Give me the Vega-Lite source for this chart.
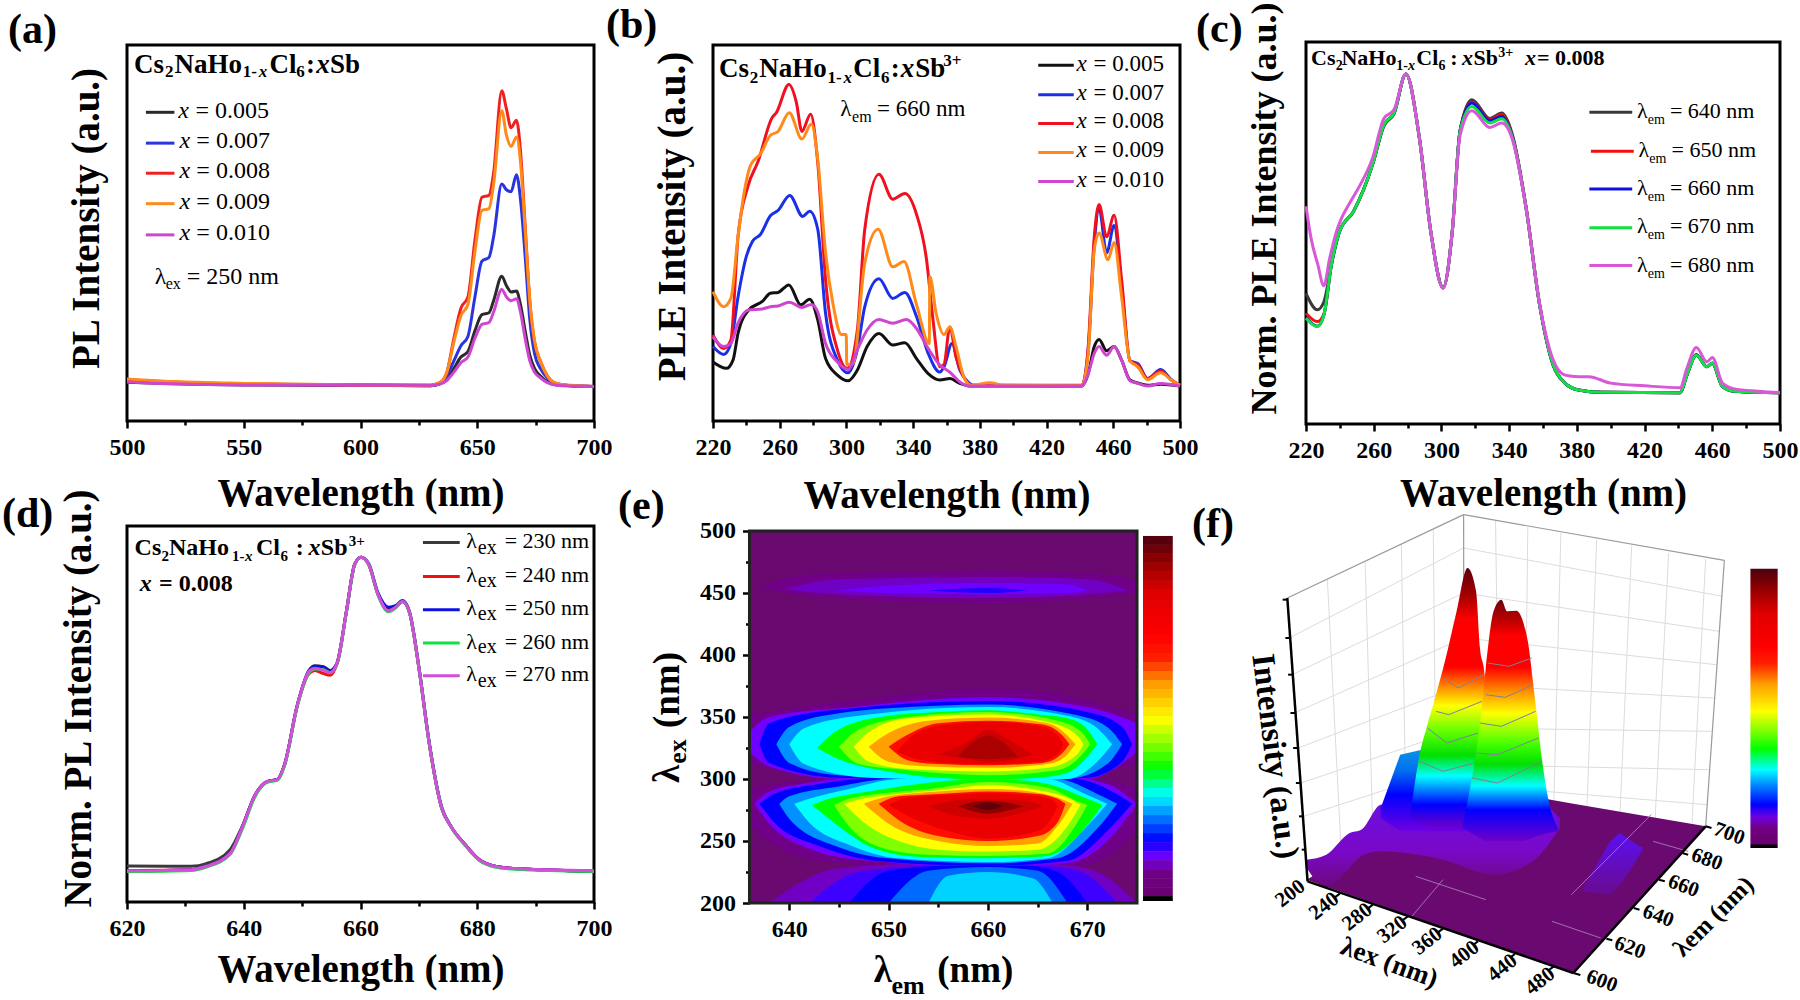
{"$schema":"https://vega.github.io/schema/vega-lite/v6.json","background":"white","padding":{"left":0,"top":0,"right":0,"bottom":0},"bounds":"flush","align":"each","center":{"row":true},"columns":3,"spacing":{"row":102,"column":119},"resolve":{"scale":{"color":"independent"}},"config":{"font":"Liberation Serif","view":{"stroke":"black","strokeWidth":3},"axis":{"labelFont":"Liberation Serif","titleFont":"Liberation Serif","labelFontSize":24,"labelFontWeight":"bold","labelColor":"black","titleFontSize":39,"titleFontWeight":"bold","titleColor":"black","domain":false,"tickColor":"black","tickWidth":2.5,"grid":false,"labelPadding":7,"labelOverlap":false,"labelFlush":false},"title":{"font":"Liberation Serif","fontSize":42,"fontWeight":"bold","anchor":"start","frame":"group","baseline":"alphabetic","color":"black"}},"concat":[{"width":467,"height":376,"title":{"text":"(a)","dx":-119,"offset":3,"dy":10},"encoding":{"x":{"field":"w","type":"quantitative","scale":{"domain":[500,700],"nice":false},"axis":{"title":"Wavelength (nm)","values":[500,525,550,575,600,625,650,675,700],"labelExpr":"datum.value%50==0?datum.label:''","tickSize":{"condition":{"test":"datum.value%50==0","value":7},"value":4},"titleBaseline":"alphabetic","titleY":84}},"y":{"field":"i","type":"quantitative","scale":{"domain":[0,100],"nice":false},"axis":{"title":"PL Intensity (a.u.)","labels":false,"ticks":false,"titleBaseline":"alphabetic","titleAngle":-90,"titleAlign":"center","titleX":-29,"titleY":173}}},"layer":[{"data":{"values":[{"w":500,"i":10.3,"s":"0.005"},{"w":520,"i":9.9,"s":"0.005"},{"w":550,"i":9.6,"s":"0.005"},{"w":600,"i":9.5,"s":"0.005"},{"w":630,"i":9.4,"s":"0.005"},{"w":634,"i":9.9,"s":"0.005"},{"w":637,"i":11,"s":"0.005"},{"w":640,"i":14,"s":"0.005"},{"w":643,"i":17,"s":"0.005"},{"w":646,"i":18.5,"s":"0.005"},{"w":649,"i":24,"s":"0.005"},{"w":652,"i":28.3,"s":"0.005"},{"w":655,"i":28.8,"s":"0.005"},{"w":657,"i":32,"s":"0.005"},{"w":660.5,"i":38.5,"s":"0.005"},{"w":662.5,"i":36,"s":"0.005"},{"w":664.5,"i":34.3,"s":"0.005"},{"w":666.8,"i":34.6,"s":"0.005"},{"w":668.5,"i":31,"s":"0.005"},{"w":670.5,"i":24,"s":"0.005"},{"w":672.5,"i":17.5,"s":"0.005"},{"w":674.5,"i":14,"s":"0.005"},{"w":677,"i":12,"s":"0.005"},{"w":680,"i":10.5,"s":"0.005"},{"w":684,"i":9.6,"s":"0.005"},{"w":690,"i":9.4,"s":"0.005"},{"w":700,"i":9.2,"s":"0.005"},{"w":500,"i":10.7,"s":"0.007"},{"w":520,"i":10.1,"s":"0.007"},{"w":550,"i":9.8,"s":"0.007"},{"w":600,"i":9.6,"s":"0.007"},{"w":630,"i":9.4,"s":"0.007"},{"w":634,"i":10,"s":"0.007"},{"w":637,"i":12,"s":"0.007"},{"w":640,"i":16,"s":"0.007"},{"w":643,"i":20,"s":"0.007"},{"w":646,"i":22.5,"s":"0.007"},{"w":649,"i":33,"s":"0.007"},{"w":652,"i":42.5,"s":"0.007"},{"w":655,"i":43.5,"s":"0.007"},{"w":657,"i":49,"s":"0.007"},{"w":660.5,"i":63,"s":"0.007"},{"w":662.5,"i":61.5,"s":"0.007"},{"w":664.5,"i":61,"s":"0.007"},{"w":666.8,"i":65.5,"s":"0.007"},{"w":668.5,"i":59,"s":"0.007"},{"w":670.5,"i":44,"s":"0.007"},{"w":672.5,"i":27,"s":"0.007"},{"w":674.5,"i":18,"s":"0.007"},{"w":677,"i":14,"s":"0.007"},{"w":680,"i":11.5,"s":"0.007"},{"w":684,"i":9.9,"s":"0.007"},{"w":690,"i":9.4,"s":"0.007"},{"w":700,"i":9.2,"s":"0.007"},{"w":500,"i":11,"s":"0.008"},{"w":520,"i":10.4,"s":"0.008"},{"w":550,"i":9.9,"s":"0.008"},{"w":600,"i":9.6,"s":"0.008"},{"w":630,"i":9.5,"s":"0.008"},{"w":634,"i":10.2,"s":"0.008"},{"w":637,"i":13,"s":"0.008"},{"w":640,"i":22,"s":"0.008"},{"w":643,"i":30,"s":"0.008"},{"w":646,"i":33,"s":"0.008"},{"w":649,"i":48,"s":"0.008"},{"w":652,"i":59.5,"s":"0.008"},{"w":655,"i":60,"s":"0.008"},{"w":657,"i":66,"s":"0.008"},{"w":660.5,"i":87.8,"s":"0.008"},{"w":662.5,"i":83,"s":"0.008"},{"w":664.5,"i":78,"s":"0.008"},{"w":666.8,"i":80,"s":"0.008"},{"w":668.5,"i":72,"s":"0.008"},{"w":670.5,"i":52,"s":"0.008"},{"w":672.5,"i":32,"s":"0.008"},{"w":674.5,"i":21,"s":"0.008"},{"w":677,"i":16,"s":"0.008"},{"w":680,"i":12,"s":"0.008"},{"w":684,"i":9.9,"s":"0.008"},{"w":690,"i":9.4,"s":"0.008"},{"w":700,"i":9.2,"s":"0.008"},{"w":500,"i":11.2,"s":"0.009"},{"w":520,"i":10.5,"s":"0.009"},{"w":550,"i":10,"s":"0.009"},{"w":600,"i":9.6,"s":"0.009"},{"w":630,"i":9.5,"s":"0.009"},{"w":634,"i":10.2,"s":"0.009"},{"w":637,"i":13,"s":"0.009"},{"w":640,"i":21,"s":"0.009"},{"w":643,"i":28,"s":"0.009"},{"w":646,"i":31,"s":"0.009"},{"w":649,"i":45,"s":"0.009"},{"w":652,"i":56,"s":"0.009"},{"w":655,"i":56.5,"s":"0.009"},{"w":657,"i":63,"s":"0.009"},{"w":660.5,"i":82.5,"s":"0.009"},{"w":662.5,"i":76,"s":"0.009"},{"w":664.5,"i":73,"s":"0.009"},{"w":666.8,"i":75.5,"s":"0.009"},{"w":668.5,"i":69,"s":"0.009"},{"w":670.5,"i":51,"s":"0.009"},{"w":672.5,"i":32,"s":"0.009"},{"w":674.5,"i":21.5,"s":"0.009"},{"w":677,"i":16,"s":"0.009"},{"w":680,"i":12,"s":"0.009"},{"w":684,"i":10,"s":"0.009"},{"w":690,"i":9.5,"s":"0.009"},{"w":700,"i":9.2,"s":"0.009"},{"w":500,"i":10.4,"s":"0.010"},{"w":520,"i":9.9,"s":"0.010"},{"w":550,"i":9.6,"s":"0.010"},{"w":600,"i":9.6,"s":"0.010"},{"w":630,"i":9.5,"s":"0.010"},{"w":634,"i":9.8,"s":"0.010"},{"w":637,"i":10.8,"s":"0.010"},{"w":640,"i":13,"s":"0.010"},{"w":643,"i":15.5,"s":"0.010"},{"w":646,"i":17,"s":"0.010"},{"w":649,"i":22,"s":"0.010"},{"w":652,"i":25.7,"s":"0.010"},{"w":655,"i":26.2,"s":"0.010"},{"w":657,"i":29,"s":"0.010"},{"w":660.5,"i":35,"s":"0.010"},{"w":662.5,"i":33,"s":"0.010"},{"w":664.5,"i":32,"s":"0.010"},{"w":666.8,"i":32.5,"s":"0.010"},{"w":668.5,"i":29,"s":"0.010"},{"w":670.5,"i":22,"s":"0.010"},{"w":672.5,"i":16,"s":"0.010"},{"w":674.5,"i":13,"s":"0.010"},{"w":677,"i":11.5,"s":"0.010"},{"w":680,"i":10.2,"s":"0.010"},{"w":684,"i":9.5,"s":"0.010"},{"w":690,"i":9.3,"s":"0.010"},{"w":700,"i":9.2,"s":"0.010"}]},"mark":{"type":"line","interpolate":"monotone","strokeWidth":3},"encoding":{"color":{"field":"s","type":"nominal","scale":{"domain":["0.005","0.007","0.008","0.009","0.010"],"range":["#2a2a2a","#2a35e0","#f02020","#ff8a1a","#cf45d0"]},"legend":null}}},{"data":{"values":[{"w":508.1,"i":82.1,"s":"0.005"},{"w":520.3,"i":82.1,"s":"0.005"},{"w":508.1,"i":73.9,"s":"0.007"},{"w":520.3,"i":73.9,"s":"0.007"},{"w":508.1,"i":65.9,"s":"0.008"},{"w":520.3,"i":65.9,"s":"0.008"},{"w":508.1,"i":57.8,"s":"0.009"},{"w":520.3,"i":57.8,"s":"0.009"},{"w":508.1,"i":49.5,"s":"0.010"},{"w":520.3,"i":49.5,"s":"0.010"}]},"mark":{"type":"line","strokeWidth":3},"encoding":{"color":{"field":"s","type":"nominal","legend":null}}},{"data":{"values":[{"w":503,"i":92.6,"t":"Cs"},{"w":520.3,"i":92.6,"t":"NaHo"},{"w":561,"i":92.6,"t":"Cl"},{"w":576.7,"i":92.6,"t":":"},{"w":586.9,"i":92.6,"t":"Sb"}]},"mark":{"type":"text","align":"left","baseline":"alphabetic","fontWeight":"bold","fontSize":27},"encoding":{"text":{"field":"t"}}},{"data":{"values":[{"w":516.3,"i":91.6,"t":"2"},{"w":549.6,"i":91.6,"t":"1-"},{"w":572.5,"i":91.6,"t":"6"}]},"mark":{"type":"text","align":"left","baseline":"alphabetic","fontWeight":"bold","fontSize":17},"encoding":{"text":{"field":"t"}}},{"data":{"values":[{"w":581,"i":92.6,"t":"x"}]},"mark":{"type":"text","align":"left","baseline":"alphabetic","fontWeight":"bold","fontStyle":"italic","fontSize":27},"encoding":{"text":{"field":"t"}}},{"data":{"values":[{"w":556.4,"i":91.6,"t":"x"}]},"mark":{"type":"text","align":"left","baseline":"alphabetic","fontWeight":"bold","fontStyle":"italic","fontSize":17},"encoding":{"text":{"field":"t"}}},{"data":{"values":[{"w":522,"i":80.7,"t":"x"},{"w":522.5,"i":72.6,"t":"x"},{"w":522.5,"i":64.5,"t":"x"},{"w":522.5,"i":56.3,"t":"x"},{"w":522.5,"i":48.1,"t":"x"}]},"mark":{"type":"text","align":"left","baseline":"alphabetic","fontStyle":"italic","fontSize":24},"encoding":{"text":{"field":"t"}}},{"data":{"values":[{"w":529.3,"i":80.7,"t":"= 0.005"},{"w":529.7,"i":72.6,"t":"= 0.007"},{"w":529.7,"i":64.5,"t":"= 0.008"},{"w":529.7,"i":56.3,"t":"= 0.009"},{"w":529.7,"i":48.1,"t":"= 0.010"},{"w":511.9,"i":36.4,"t":"λ"},{"w":525.6,"i":36.4,"t":"= 250 nm"}]},"mark":{"type":"text","align":"left","baseline":"alphabetic","fontSize":24},"encoding":{"text":{"field":"t"}}},{"data":{"values":[{"w":516.6,"i":35,"t":"ex"}]},"mark":{"type":"text","align":"left","baseline":"alphabetic","fontSize":16},"encoding":{"text":{"field":"t"}}}]},{"width":467,"height":376,"title":{"text":"(b)","dx":-107,"offset":9,"dy":11},"encoding":{"x":{"field":"w","type":"quantitative","scale":{"domain":[220,500],"nice":false},"axis":{"title":"Wavelength (nm)","values":[220,240,260,280,300,320,340,360,380,400,420,440,460,480,500],"labelExpr":"(datum.value-220)%40==0?datum.label:''","tickSize":{"condition":{"test":"(datum.value-220)%40==0","value":7},"value":4},"titleBaseline":"alphabetic","titleY":86}},"y":{"field":"i","type":"quantitative","scale":{"domain":[0,100],"nice":false},"axis":{"title":"PLE Intensity (a.u.)","labels":false,"ticks":false,"titleBaseline":"alphabetic","titleAngle":-90,"titleAlign":"center","titleX":-29,"titleY":171}}},"layer":[{"data":{"values":[{"w":220,"i":15.7,"s":"0.005"},{"w":228,"i":14,"s":"0.005"},{"w":232,"i":16.2,"s":"0.005"},{"w":235,"i":23.3,"s":"0.005"},{"w":241.3,"i":29.5,"s":"0.005"},{"w":249.6,"i":31.8,"s":"0.005"},{"w":254.4,"i":34,"s":"0.005"},{"w":259,"i":34.2,"s":"0.005"},{"w":265.5,"i":36.2,"s":"0.005"},{"w":272.6,"i":30.9,"s":"0.005"},{"w":278,"i":32.4,"s":"0.005"},{"w":282.8,"i":26.9,"s":"0.005"},{"w":287.5,"i":16.6,"s":"0.005"},{"w":294.6,"i":12.2,"s":"0.005"},{"w":301,"i":10.7,"s":"0.005"},{"w":306.5,"i":13.5,"s":"0.005"},{"w":312.4,"i":19.8,"s":"0.005"},{"w":319.5,"i":23.3,"s":"0.005"},{"w":327.8,"i":20.2,"s":"0.005"},{"w":335,"i":20.8,"s":"0.005"},{"w":342,"i":16.6,"s":"0.005"},{"w":349,"i":12.6,"s":"0.005"},{"w":356,"i":10.9,"s":"0.005"},{"w":362,"i":11.3,"s":"0.005"},{"w":368,"i":10,"s":"0.005"},{"w":374,"i":9.3,"s":"0.005"},{"w":441,"i":9.3,"s":"0.005"},{"w":445,"i":12.6,"s":"0.005"},{"w":448.6,"i":19.8,"s":"0.005"},{"w":451.5,"i":21.7,"s":"0.005"},{"w":456,"i":18.7,"s":"0.005"},{"w":460.5,"i":19.8,"s":"0.005"},{"w":465,"i":16.2,"s":"0.005"},{"w":470,"i":10.9,"s":"0.005"},{"w":474.7,"i":10.1,"s":"0.005"},{"w":480.6,"i":9.5,"s":"0.005"},{"w":488.4,"i":9.8,"s":"0.005"},{"w":500,"i":9.3,"s":"0.005"},{"w":220,"i":19.8,"s":"0.007"},{"w":226.4,"i":17.7,"s":"0.007"},{"w":230.7,"i":20.6,"s":"0.007"},{"w":235,"i":33,"s":"0.007"},{"w":240,"i":43.8,"s":"0.007"},{"w":243.7,"i":47.8,"s":"0.007"},{"w":248.4,"i":49.6,"s":"0.007"},{"w":254.4,"i":54.6,"s":"0.007"},{"w":259,"i":56,"s":"0.007"},{"w":266,"i":60,"s":"0.007"},{"w":273.8,"i":54.4,"s":"0.007"},{"w":278,"i":55.8,"s":"0.007"},{"w":282.8,"i":51,"s":"0.007"},{"w":287.5,"i":28.6,"s":"0.007"},{"w":294.6,"i":16.2,"s":"0.007"},{"w":301,"i":12.8,"s":"0.007"},{"w":306.5,"i":18.9,"s":"0.007"},{"w":311,"i":30.4,"s":"0.007"},{"w":319.5,"i":37.8,"s":"0.007"},{"w":327.8,"i":32.6,"s":"0.007"},{"w":335,"i":34.2,"s":"0.007"},{"w":342,"i":27.8,"s":"0.007"},{"w":349,"i":18,"s":"0.007"},{"w":356,"i":13,"s":"0.007"},{"w":358.5,"i":14.4,"s":"0.007"},{"w":363.3,"i":20.6,"s":"0.007"},{"w":368,"i":13.5,"s":"0.007"},{"w":372.8,"i":10.4,"s":"0.007"},{"w":376,"i":9.5,"s":"0.007"},{"w":441,"i":9.4,"s":"0.007"},{"w":445,"i":19,"s":"0.007"},{"w":448.6,"i":47,"s":"0.007"},{"w":451.5,"i":56.5,"s":"0.007"},{"w":456,"i":44.7,"s":"0.007"},{"w":460.5,"i":52,"s":"0.007"},{"w":465,"i":36,"s":"0.007"},{"w":470,"i":16,"s":"0.007"},{"w":474.7,"i":15.3,"s":"0.007"},{"w":480.6,"i":11.3,"s":"0.007"},{"w":488.4,"i":13.7,"s":"0.007"},{"w":494.8,"i":11,"s":"0.007"},{"w":500,"i":9.5,"s":"0.007"},{"w":220,"i":22.9,"s":"0.008"},{"w":226.4,"i":19.3,"s":"0.008"},{"w":230.7,"i":21.5,"s":"0.008"},{"w":235,"i":49,"s":"0.008"},{"w":241,"i":62.5,"s":"0.008"},{"w":247,"i":69,"s":"0.008"},{"w":255.5,"i":80.7,"s":"0.008"},{"w":258,"i":82,"s":"0.008"},{"w":265.5,"i":89.5,"s":"0.008"},{"w":270,"i":84.7,"s":"0.008"},{"w":273.3,"i":77,"s":"0.008"},{"w":278.5,"i":81.6,"s":"0.008"},{"w":282.8,"i":68.7,"s":"0.008"},{"w":287.5,"i":37.5,"s":"0.008"},{"w":294.6,"i":18.9,"s":"0.008"},{"w":300.5,"i":14,"s":"0.008"},{"w":306.5,"i":24,"s":"0.008"},{"w":311,"i":51,"s":"0.008"},{"w":319.5,"i":65.6,"s":"0.008"},{"w":327.8,"i":59,"s":"0.008"},{"w":335,"i":60.5,"s":"0.008"},{"w":342,"i":55,"s":"0.008"},{"w":348,"i":43,"s":"0.008"},{"w":351.5,"i":28.6,"s":"0.008"},{"w":356,"i":14.4,"s":"0.008"},{"w":358.5,"i":15,"s":"0.008"},{"w":362,"i":25,"s":"0.008"},{"w":365.7,"i":17,"s":"0.008"},{"w":370.4,"i":11.7,"s":"0.008"},{"w":375,"i":9.5,"s":"0.008"},{"w":441.5,"i":9.5,"s":"0.008"},{"w":445,"i":20,"s":"0.008"},{"w":448.6,"i":49,"s":"0.008"},{"w":451.5,"i":57.6,"s":"0.008"},{"w":456,"i":49,"s":"0.008"},{"w":460.5,"i":54.7,"s":"0.008"},{"w":465,"i":37.5,"s":"0.008"},{"w":470,"i":16,"s":"0.008"},{"w":474.7,"i":14.9,"s":"0.008"},{"w":480.6,"i":11.3,"s":"0.008"},{"w":488.4,"i":13.3,"s":"0.008"},{"w":494.8,"i":10.9,"s":"0.008"},{"w":500,"i":9.5,"s":"0.008"},{"w":220,"i":34.4,"s":"0.009"},{"w":226.4,"i":30.4,"s":"0.009"},{"w":230.7,"i":32.6,"s":"0.009"},{"w":235,"i":49,"s":"0.009"},{"w":239,"i":61.6,"s":"0.009"},{"w":242.5,"i":68,"s":"0.009"},{"w":248.4,"i":71,"s":"0.009"},{"w":254.4,"i":76,"s":"0.009"},{"w":259,"i":77,"s":"0.009"},{"w":265.7,"i":82,"s":"0.009"},{"w":273.3,"i":75,"s":"0.009"},{"w":279,"i":79,"s":"0.009"},{"w":282.8,"i":69.6,"s":"0.009"},{"w":287.5,"i":44.7,"s":"0.009"},{"w":292,"i":31,"s":"0.009"},{"w":297,"i":23,"s":"0.009"},{"w":299.9,"i":23,"s":"0.009"},{"w":300.2,"i":15,"s":"0.009"},{"w":304,"i":15.3,"s":"0.009"},{"w":311,"i":42,"s":"0.009"},{"w":319,"i":51,"s":"0.009"},{"w":327.8,"i":41,"s":"0.009"},{"w":334.5,"i":42.4,"s":"0.009"},{"w":342,"i":31,"s":"0.009"},{"w":349.7,"i":20.6,"s":"0.009"},{"w":350,"i":38.4,"s":"0.009"},{"w":353.8,"i":28.6,"s":"0.009"},{"w":358.5,"i":23,"s":"0.009"},{"w":362,"i":25,"s":"0.009"},{"w":365.7,"i":19.8,"s":"0.009"},{"w":370.4,"i":11.7,"s":"0.009"},{"w":375,"i":9.5,"s":"0.009"},{"w":386,"i":10.2,"s":"0.009"},{"w":394,"i":9.5,"s":"0.009"},{"w":441,"i":9.4,"s":"0.009"},{"w":445,"i":18,"s":"0.009"},{"w":448.6,"i":45.6,"s":"0.009"},{"w":451.5,"i":50,"s":"0.009"},{"w":456.8,"i":42.9,"s":"0.009"},{"w":460.5,"i":47.5,"s":"0.009"},{"w":465,"i":33,"s":"0.009"},{"w":470,"i":16,"s":"0.009"},{"w":474.7,"i":14.4,"s":"0.009"},{"w":480.6,"i":11,"s":"0.009"},{"w":488.4,"i":12.8,"s":"0.009"},{"w":494.8,"i":10.9,"s":"0.009"},{"w":500,"i":9.5,"s":"0.009"},{"w":220,"i":22.4,"s":"0.010"},{"w":226.4,"i":19.8,"s":"0.010"},{"w":230.7,"i":20.6,"s":"0.010"},{"w":235,"i":26,"s":"0.010"},{"w":241.3,"i":29.5,"s":"0.010"},{"w":249.6,"i":29.8,"s":"0.010"},{"w":254.4,"i":30.4,"s":"0.010"},{"w":259,"i":30.6,"s":"0.010"},{"w":265.7,"i":31.6,"s":"0.010"},{"w":273.3,"i":30.2,"s":"0.010"},{"w":279,"i":31,"s":"0.010"},{"w":282.8,"i":29,"s":"0.010"},{"w":287.5,"i":20.6,"s":"0.010"},{"w":294.6,"i":15.7,"s":"0.010"},{"w":301,"i":13.7,"s":"0.010"},{"w":306.5,"i":18.9,"s":"0.010"},{"w":312.4,"i":24.2,"s":"0.010"},{"w":319.5,"i":27,"s":"0.010"},{"w":327.8,"i":26,"s":"0.010"},{"w":336,"i":27,"s":"0.010"},{"w":342,"i":24.6,"s":"0.010"},{"w":349,"i":19.3,"s":"0.010"},{"w":356,"i":14.9,"s":"0.010"},{"w":362,"i":13,"s":"0.010"},{"w":368,"i":10.4,"s":"0.010"},{"w":374,"i":9.3,"s":"0.010"},{"w":441,"i":9.3,"s":"0.010"},{"w":445,"i":12.6,"s":"0.010"},{"w":448.6,"i":18,"s":"0.010"},{"w":451.5,"i":19.8,"s":"0.010"},{"w":456,"i":17.5,"s":"0.010"},{"w":460.5,"i":19.8,"s":"0.010"},{"w":465,"i":16.2,"s":"0.010"},{"w":470,"i":10.7,"s":"0.010"},{"w":474.7,"i":10,"s":"0.010"},{"w":480.6,"i":9.3,"s":"0.010"},{"w":488.4,"i":10,"s":"0.010"},{"w":500,"i":9.3,"s":"0.010"}]},"mark":{"type":"line","interpolate":"monotone","strokeWidth":3},"encoding":{"color":{"field":"s","type":"nominal","scale":{"domain":["0.005","0.007","0.008","0.009","0.010"],"range":["#111111","#1a30e8","#f01020","#ff8a1a","#cf45d0"]},"legend":null}}},{"data":{"values":[{"w":415,"i":94.6,"s":"0.005"},{"w":436.3,"i":94.6,"s":"0.005"},{"w":415,"i":86.8,"s":"0.007"},{"w":436.3,"i":86.8,"s":"0.007"},{"w":415,"i":79.1,"s":"0.008"},{"w":436.3,"i":79.1,"s":"0.008"},{"w":415,"i":71.4,"s":"0.009"},{"w":436.3,"i":71.4,"s":"0.009"},{"w":415,"i":63.7,"s":"0.010"},{"w":436.3,"i":63.7,"s":"0.010"}]},"mark":{"type":"line","strokeWidth":3},"encoding":{"color":{"field":"s","type":"nominal","legend":null}}},{"data":{"values":[{"w":223.6,"i":91.4,"t":"Cs"},{"w":247.7,"i":91.4,"t":"NaHo"},{"w":304.1,"i":91.4,"t":"Cl"},{"w":326.6,"i":91.4,"t":":"},{"w":341.3,"i":91.4,"t":"Sb"}]},"mark":{"type":"text","align":"left","baseline":"alphabetic","fontWeight":"bold","fontSize":27},"encoding":{"text":{"field":"t"}}},{"data":{"values":[{"w":242,"i":89.9,"t":"2"},{"w":288.7,"i":89.9,"t":"1-"},{"w":320.7,"i":89.9,"t":"6"},{"w":358,"i":94.3,"t":"3+"}]},"mark":{"type":"text","align":"left","baseline":"alphabetic","fontWeight":"bold","fontSize":17},"encoding":{"text":{"field":"t"}}},{"data":{"values":[{"w":332.5,"i":91.4,"t":"x"}]},"mark":{"type":"text","align":"left","baseline":"alphabetic","fontWeight":"bold","fontStyle":"italic","fontSize":27},"encoding":{"text":{"field":"t"}}},{"data":{"values":[{"w":298.2,"i":89.9,"t":"x"}]},"mark":{"type":"text","align":"left","baseline":"alphabetic","fontWeight":"bold","fontStyle":"italic","fontSize":17},"encoding":{"text":{"field":"t"}}},{"data":{"values":[{"w":438,"i":93.1,"t":"x"},{"w":438,"i":85.4,"t":"x"},{"w":438,"i":77.8,"t":"x"},{"w":438,"i":70.1,"t":"x"},{"w":438,"i":62.3,"t":"x"}]},"mark":{"type":"text","align":"left","baseline":"alphabetic","fontStyle":"italic","fontSize":23},"encoding":{"text":{"field":"t"}}},{"data":{"values":[{"w":448.1,"i":93.1,"t":"= 0.005"},{"w":448.1,"i":85.4,"t":"= 0.007"},{"w":448.1,"i":77.8,"t":"= 0.008"},{"w":448.1,"i":70.1,"t":"= 0.009"},{"w":448.1,"i":62.3,"t":"= 0.010"},{"w":296.3,"i":81,"t":"λ"},{"w":318.3,"i":81,"t":"= 660 nm"}]},"mark":{"type":"text","align":"left","baseline":"alphabetic","fontSize":23},"encoding":{"text":{"field":"t"}}},{"data":{"values":[{"w":303.4,"i":79.5,"t":"em"}]},"mark":{"type":"text","align":"left","baseline":"alphabetic","fontSize":16},"encoding":{"text":{"field":"t"}}}]},{"width":474,"height":382,"title":{"text":"(c)","dx":-110,"offset":4,"dy":53},"encoding":{"x":{"field":"w","type":"quantitative","scale":{"domain":[220,500],"nice":false},"axis":{"title":"Wavelength (nm)","values":[220,240,260,280,300,320,340,360,380,400,420,440,460,480,500],"labelExpr":"(datum.value-220)%40==0?datum.label:''","tickSize":{"condition":{"test":"(datum.value-220)%40==0","value":7},"value":4},"titleBaseline":"alphabetic","titleY":81}},"y":{"field":"i","type":"quantitative","scale":{"domain":[0,100],"nice":false},"axis":{"title":"Norm. PLE Intensity (a.u.)","titleFontSize":36,"labels":false,"ticks":false,"titleBaseline":"alphabetic","titleAngle":-90,"titleAlign":"center","titleX":-31,"titleY":166}}},"layer":[{"data":{"values":[{"w":220,"i":34.2,"s":"640"},{"w":226.7,"i":29.9,"s":"640"},{"w":230.6,"i":32,"s":"640"},{"w":235,"i":41.7,"s":"640"},{"w":239.8,"i":50.4,"s":"640"},{"w":248,"i":55.6,"s":"640"},{"w":259.3,"i":67.9,"s":"640"},{"w":266,"i":78,"s":"640"},{"w":272,"i":81.2,"s":"640"},{"w":279,"i":91.6,"s":"640"},{"w":287,"i":74.8,"s":"640"},{"w":293.7,"i":50.4,"s":"640"},{"w":301,"i":35.7,"s":"640"},{"w":306.4,"i":50.4,"s":"640"},{"w":311,"i":76.8,"s":"640"},{"w":318,"i":84.9,"s":"640"},{"w":328.6,"i":80,"s":"640"},{"w":335.6,"i":81.4,"s":"640"},{"w":342,"i":75.6,"s":"640"},{"w":350,"i":56.8,"s":"640"},{"w":358,"i":31.2,"s":"640"},{"w":366,"i":15.3,"s":"640"},{"w":373,"i":10.7,"s":"640"},{"w":381,"i":8.9,"s":"640"},{"w":394.8,"i":8.3,"s":"640"},{"w":441,"i":8.2,"s":"640"},{"w":445,"i":12.8,"s":"640"},{"w":450.6,"i":18.2,"s":"640"},{"w":456.8,"i":15,"s":"640"},{"w":460,"i":15.9,"s":"640"},{"w":466,"i":9.8,"s":"640"},{"w":473,"i":8.6,"s":"640"},{"w":500,"i":8.2,"s":"640"},{"w":220,"i":29,"s":"650"},{"w":226.7,"i":26.8,"s":"650"},{"w":230.6,"i":28.8,"s":"650"},{"w":235,"i":41.7,"s":"650"},{"w":239.8,"i":50.4,"s":"650"},{"w":248,"i":55.6,"s":"650"},{"w":259.3,"i":67.9,"s":"650"},{"w":266,"i":78.3,"s":"650"},{"w":272,"i":81.4,"s":"650"},{"w":279,"i":91.6,"s":"650"},{"w":287,"i":74.8,"s":"650"},{"w":293.7,"i":50.4,"s":"650"},{"w":301,"i":35.7,"s":"650"},{"w":306.4,"i":50.4,"s":"650"},{"w":311,"i":76.7,"s":"650"},{"w":318,"i":84.3,"s":"650"},{"w":328.6,"i":79.7,"s":"650"},{"w":335.6,"i":81,"s":"650"},{"w":342,"i":75.2,"s":"650"},{"w":350,"i":56.6,"s":"650"},{"w":358,"i":31.2,"s":"650"},{"w":366,"i":15.5,"s":"650"},{"w":373,"i":10.7,"s":"650"},{"w":381,"i":8.9,"s":"650"},{"w":394.8,"i":8.3,"s":"650"},{"w":441,"i":8.2,"s":"650"},{"w":445,"i":12.8,"s":"650"},{"w":450.6,"i":18,"s":"650"},{"w":456.8,"i":15,"s":"650"},{"w":460,"i":15.9,"s":"650"},{"w":466,"i":9.8,"s":"650"},{"w":473,"i":8.6,"s":"650"},{"w":500,"i":8.2,"s":"650"},{"w":220,"i":27.9,"s":"660"},{"w":226.7,"i":25.6,"s":"660"},{"w":230.6,"i":28.6,"s":"660"},{"w":235,"i":41.7,"s":"660"},{"w":239.8,"i":50.4,"s":"660"},{"w":248,"i":55.6,"s":"660"},{"w":259.3,"i":67.9,"s":"660"},{"w":266,"i":78.3,"s":"660"},{"w":272,"i":81.4,"s":"660"},{"w":279,"i":91.6,"s":"660"},{"w":287,"i":74.8,"s":"660"},{"w":293.7,"i":50.4,"s":"660"},{"w":301,"i":35.7,"s":"660"},{"w":306.4,"i":50.4,"s":"660"},{"w":311,"i":76.7,"s":"660"},{"w":318,"i":84,"s":"660"},{"w":328.6,"i":79.4,"s":"660"},{"w":335.6,"i":80.5,"s":"660"},{"w":342,"i":75,"s":"660"},{"w":350,"i":56.5,"s":"660"},{"w":358,"i":31.2,"s":"660"},{"w":366,"i":15.5,"s":"660"},{"w":373,"i":10.7,"s":"660"},{"w":381,"i":8.9,"s":"660"},{"w":394.8,"i":8.3,"s":"660"},{"w":441,"i":8.2,"s":"660"},{"w":445,"i":12.8,"s":"660"},{"w":450.6,"i":18,"s":"660"},{"w":456.8,"i":15,"s":"660"},{"w":460,"i":15.9,"s":"660"},{"w":466,"i":9.8,"s":"660"},{"w":473,"i":8.6,"s":"660"},{"w":500,"i":8.2,"s":"660"},{"w":220,"i":27.7,"s":"670"},{"w":226.7,"i":25.5,"s":"670"},{"w":230.6,"i":28.6,"s":"670"},{"w":235,"i":41.7,"s":"670"},{"w":239.8,"i":50.4,"s":"670"},{"w":248,"i":55.6,"s":"670"},{"w":259.3,"i":67.9,"s":"670"},{"w":266,"i":78.3,"s":"670"},{"w":272,"i":81.4,"s":"670"},{"w":279,"i":91.6,"s":"670"},{"w":287,"i":74.8,"s":"670"},{"w":293.7,"i":50.4,"s":"670"},{"w":301,"i":35.7,"s":"670"},{"w":306.4,"i":50.4,"s":"670"},{"w":311,"i":76.6,"s":"670"},{"w":318,"i":83.1,"s":"670"},{"w":328.6,"i":78.8,"s":"670"},{"w":335.6,"i":79.9,"s":"670"},{"w":342,"i":74.8,"s":"670"},{"w":350,"i":56.5,"s":"670"},{"w":358,"i":31.2,"s":"670"},{"w":366,"i":15.5,"s":"670"},{"w":373,"i":10.7,"s":"670"},{"w":381,"i":8.9,"s":"670"},{"w":394.8,"i":8.3,"s":"670"},{"w":441,"i":8.2,"s":"670"},{"w":445,"i":12.8,"s":"670"},{"w":450.6,"i":18,"s":"670"},{"w":456.8,"i":15,"s":"670"},{"w":460,"i":15.9,"s":"670"},{"w":466,"i":9.8,"s":"670"},{"w":473,"i":8.6,"s":"670"},{"w":500,"i":8.2,"s":"670"},{"w":220,"i":57,"s":"680"},{"w":223,"i":48.6,"s":"680"},{"w":227,"i":41.7,"s":"680"},{"w":230.5,"i":36.2,"s":"680"},{"w":234,"i":43.4,"s":"680"},{"w":238,"i":50.4,"s":"680"},{"w":241,"i":53.9,"s":"680"},{"w":246,"i":58,"s":"680"},{"w":252,"i":62.6,"s":"680"},{"w":259.3,"i":69.6,"s":"680"},{"w":266,"i":80,"s":"680"},{"w":272,"i":82.3,"s":"680"},{"w":279,"i":91.6,"s":"680"},{"w":287,"i":74.8,"s":"680"},{"w":293.7,"i":50.4,"s":"680"},{"w":301,"i":35.5,"s":"680"},{"w":306.4,"i":50.4,"s":"680"},{"w":311,"i":75.5,"s":"680"},{"w":318,"i":82,"s":"680"},{"w":328.6,"i":77.6,"s":"680"},{"w":335.6,"i":78.8,"s":"680"},{"w":342,"i":74.4,"s":"680"},{"w":350,"i":56.5,"s":"680"},{"w":358,"i":31.5,"s":"680"},{"w":366,"i":16.8,"s":"680"},{"w":373,"i":12.8,"s":"680"},{"w":381,"i":12.4,"s":"680"},{"w":387,"i":12.4,"s":"680"},{"w":400,"i":10.7,"s":"680"},{"w":420,"i":10,"s":"680"},{"w":441,"i":9.5,"s":"680"},{"w":445,"i":14.6,"s":"680"},{"w":450.6,"i":20,"s":"680"},{"w":456.8,"i":16.3,"s":"680"},{"w":460,"i":17.4,"s":"680"},{"w":466,"i":10.7,"s":"680"},{"w":473,"i":9.2,"s":"680"},{"w":487,"i":8.6,"s":"680"},{"w":500,"i":8.2,"s":"680"}]},"mark":{"type":"line","interpolate":"monotone","strokeWidth":3},"encoding":{"color":{"field":"s","type":"nominal","scale":{"domain":["640","650","660","670","680"],"range":["#3a3a3a","#f01010","#1010e0","#10e040","#d858d8"]},"legend":null}}},{"data":{"values":[{"w":387.4,"i":81.6,"s":"640"},{"w":412.7,"i":81.6,"s":"640"},{"w":388.3,"i":71.4,"s":"650"},{"w":413.6,"i":71.4,"s":"650"},{"w":387.4,"i":61.5,"s":"660"},{"w":412.7,"i":61.5,"s":"660"},{"w":387.4,"i":51.4,"s":"670"},{"w":412.7,"i":51.4,"s":"670"},{"w":387.4,"i":41.5,"s":"680"},{"w":412.7,"i":41.5,"s":"680"}]},"mark":{"type":"line","strokeWidth":3},"encoding":{"color":{"field":"s","type":"nominal","legend":null}}},{"data":{"values":[{"w":223,"i":94,"t":"Cs"},{"w":240.9,"i":94,"t":"NaHo"},{"w":285.2,"i":94,"t":"Cl"},{"w":305.2,"i":94,"t":":"},{"w":319,"i":94,"t":"Sb"},{"w":356.4,"i":94,"t":"= 0.008"}]},"mark":{"type":"text","align":"left","baseline":"alphabetic","fontWeight":"bold","fontSize":22},"encoding":{"text":{"field":"t"}}},{"data":{"values":[{"w":237.5,"i":92.7,"t":"2"},{"w":273.3,"i":92.7,"t":"1-"},{"w":298.3,"i":92.7,"t":"6"},{"w":333.5,"i":96,"t":"3+"}]},"mark":{"type":"text","align":"left","baseline":"alphabetic","fontWeight":"bold","fontSize":14},"encoding":{"text":{"field":"t"}}},{"data":{"values":[{"w":312.1,"i":94,"t":"x"},{"w":349.3,"i":94,"t":"x"}]},"mark":{"type":"text","align":"left","baseline":"alphabetic","fontWeight":"bold","fontStyle":"italic","fontSize":22},"encoding":{"text":{"field":"t"}}},{"data":{"values":[{"w":280.2,"i":92.7,"t":"x"}]},"mark":{"type":"text","align":"left","baseline":"alphabetic","fontWeight":"bold","fontStyle":"italic","fontSize":14},"encoding":{"text":{"field":"t"}}},{"data":{"values":[{"w":415.5,"i":80.1,"t":"λ"},{"w":416.4,"i":70,"t":"λ"},{"w":415.5,"i":60,"t":"λ"},{"w":415.5,"i":50,"t":"λ"},{"w":415.5,"i":39.9,"t":"λ"},{"w":435,"i":80.1,"t":"= 640 nm"},{"w":435.9,"i":70,"t":"= 650 nm"},{"w":435,"i":60,"t":"= 660 nm"},{"w":435,"i":50,"t":"= 670 nm"},{"w":435,"i":39.9,"t":"= 680 nm"}]},"mark":{"type":"text","align":"left","baseline":"alphabetic","fontSize":22},"encoding":{"text":{"field":"t"}}},{"data":{"values":[{"w":421.9,"i":78.5,"t":"em"},{"w":422.8,"i":68.4,"t":"em"},{"w":421.9,"i":58.4,"t":"em"},{"w":421.9,"i":48.3,"t":"em"},{"w":421.9,"i":38.3,"t":"em"}]},"mark":{"type":"text","align":"left","baseline":"alphabetic","fontSize":14},"encoding":{"text":{"field":"t"}}}]},{"width":467,"height":376,"title":{"text":"(d)","dx":-125,"offset":6,"dy":54},"encoding":{"x":{"field":"w","type":"quantitative","scale":{"domain":[620,700],"nice":false},"axis":{"title":"Wavelength (nm)","values":[620,630,640,650,660,670,680,690,700],"labelExpr":"datum.value%20==0?datum.label:''","tickSize":{"condition":{"test":"datum.value%20==0","value":7},"value":4},"titleBaseline":"alphabetic","titleY":79}},"y":{"field":"i","type":"quantitative","scale":{"domain":[0,100],"nice":false},"axis":{"title":"Norm. PL Intensity (a.u.)","labels":false,"ticks":false,"titleBaseline":"alphabetic","titleAngle":-90,"titleAlign":"center","titleX":-37,"titleY":172}}},"layer":[{"data":{"values":[{"w":620,"i":9.6,"s":"230"},{"w":631,"i":9.5,"s":"230"},{"w":633.6,"i":10.2,"s":"230"},{"w":637.7,"i":14,"s":"230"},{"w":639.7,"i":20,"s":"230"},{"w":642,"i":28.6,"s":"230"},{"w":644,"i":32,"s":"230"},{"w":645.8,"i":32.6,"s":"230"},{"w":647,"i":36.6,"s":"230"},{"w":649.2,"i":52.5,"s":"230"},{"w":651.2,"i":61.6,"s":"230"},{"w":652.2,"i":62.8,"s":"230"},{"w":653.6,"i":62.6,"s":"230"},{"w":654.8,"i":61.6,"s":"230"},{"w":656,"i":63.6,"s":"230"},{"w":657.6,"i":77.4,"s":"230"},{"w":659,"i":89.8,"s":"230"},{"w":660.1,"i":91.7,"s":"230"},{"w":661.4,"i":89.8,"s":"230"},{"w":663,"i":81.8,"s":"230"},{"w":664.8,"i":77.8,"s":"230"},{"w":666,"i":78.4,"s":"230"},{"w":667.2,"i":79.9,"s":"230"},{"w":668.4,"i":76.9,"s":"230"},{"w":670,"i":62.3,"s":"230"},{"w":671.8,"i":41.9,"s":"230"},{"w":673.9,"i":25,"s":"230"},{"w":675.5,"i":20.1,"s":"230"},{"w":677.9,"i":15.3,"s":"230"},{"w":680.3,"i":11.3,"s":"230"},{"w":683,"i":9.5,"s":"230"},{"w":686.4,"i":8.9,"s":"230"},{"w":700,"i":8.2,"s":"230"},{"w":620,"i":8.4,"s":"240"},{"w":631,"i":8.6,"s":"240"},{"w":633.6,"i":9.5,"s":"240"},{"w":637.7,"i":13,"s":"240"},{"w":639.7,"i":19.7,"s":"240"},{"w":642,"i":28.6,"s":"240"},{"w":644,"i":32,"s":"240"},{"w":645.8,"i":32.6,"s":"240"},{"w":647,"i":36.6,"s":"240"},{"w":649.2,"i":52.5,"s":"240"},{"w":651.2,"i":60.8,"s":"240"},{"w":652.2,"i":61.6,"s":"240"},{"w":653.6,"i":60.8,"s":"240"},{"w":654.8,"i":60.3,"s":"240"},{"w":656,"i":63.6,"s":"240"},{"w":657.6,"i":77.4,"s":"240"},{"w":659,"i":89.8,"s":"240"},{"w":660.1,"i":91.7,"s":"240"},{"w":661.4,"i":89.8,"s":"240"},{"w":663,"i":81.8,"s":"240"},{"w":664.8,"i":77.6,"s":"240"},{"w":666,"i":78.4,"s":"240"},{"w":667.2,"i":79.9,"s":"240"},{"w":668.4,"i":76.9,"s":"240"},{"w":670,"i":62.3,"s":"240"},{"w":671.8,"i":41.9,"s":"240"},{"w":673.9,"i":25,"s":"240"},{"w":675.5,"i":20.1,"s":"240"},{"w":677.9,"i":15.3,"s":"240"},{"w":680.3,"i":11.3,"s":"240"},{"w":683,"i":9.5,"s":"240"},{"w":686.4,"i":8.9,"s":"240"},{"w":700,"i":8.2,"s":"240"},{"w":620,"i":8.3,"s":"250"},{"w":631,"i":8.6,"s":"250"},{"w":633.6,"i":9.5,"s":"250"},{"w":637.7,"i":13,"s":"250"},{"w":639.7,"i":19.7,"s":"250"},{"w":642,"i":28.6,"s":"250"},{"w":644,"i":32,"s":"250"},{"w":645.8,"i":32.6,"s":"250"},{"w":647,"i":36.6,"s":"250"},{"w":649.2,"i":52.5,"s":"250"},{"w":651.2,"i":61.6,"s":"250"},{"w":652.2,"i":62.7,"s":"250"},{"w":653.6,"i":62.6,"s":"250"},{"w":654.8,"i":61.4,"s":"250"},{"w":656,"i":63.6,"s":"250"},{"w":657.6,"i":77.4,"s":"250"},{"w":659,"i":89.8,"s":"250"},{"w":660.1,"i":91.7,"s":"250"},{"w":661.4,"i":90,"s":"250"},{"w":663,"i":82.2,"s":"250"},{"w":664.8,"i":78.4,"s":"250"},{"w":666,"i":78.8,"s":"250"},{"w":667.2,"i":80.2,"s":"250"},{"w":668.4,"i":77.2,"s":"250"},{"w":670,"i":62.6,"s":"250"},{"w":671.8,"i":42.2,"s":"250"},{"w":673.9,"i":25.3,"s":"250"},{"w":675.5,"i":20.1,"s":"250"},{"w":677.9,"i":15.3,"s":"250"},{"w":680.3,"i":11.3,"s":"250"},{"w":683,"i":9.5,"s":"250"},{"w":686.4,"i":8.9,"s":"250"},{"w":700,"i":8.2,"s":"250"},{"w":620,"i":8.1,"s":"260"},{"w":631,"i":8.4,"s":"260"},{"w":633.6,"i":9.3,"s":"260"},{"w":637.7,"i":12.8,"s":"260"},{"w":639.7,"i":19.2,"s":"260"},{"w":642,"i":28.2,"s":"260"},{"w":644,"i":31.8,"s":"260"},{"w":645.8,"i":32.4,"s":"260"},{"w":647,"i":36.2,"s":"260"},{"w":649.2,"i":52.2,"s":"260"},{"w":651.2,"i":61,"s":"260"},{"w":652.2,"i":62,"s":"260"},{"w":653.6,"i":61.8,"s":"260"},{"w":654.8,"i":61,"s":"260"},{"w":656,"i":63.4,"s":"260"},{"w":657.6,"i":77.2,"s":"260"},{"w":659,"i":89.6,"s":"260"},{"w":660.1,"i":91.7,"s":"260"},{"w":661.4,"i":89.8,"s":"260"},{"w":663,"i":81.6,"s":"260"},{"w":664.8,"i":77.2,"s":"260"},{"w":666,"i":78.2,"s":"260"},{"w":667.2,"i":79.9,"s":"260"},{"w":668.4,"i":76.9,"s":"260"},{"w":670,"i":62.3,"s":"260"},{"w":671.8,"i":41.9,"s":"260"},{"w":673.9,"i":25,"s":"260"},{"w":675.5,"i":20,"s":"260"},{"w":677.9,"i":15.1,"s":"260"},{"w":680.3,"i":11.1,"s":"260"},{"w":683,"i":9.3,"s":"260"},{"w":686.4,"i":8.7,"s":"260"},{"w":700,"i":8.1,"s":"260"},{"w":620,"i":8.3,"s":"270"},{"w":631,"i":8.6,"s":"270"},{"w":633.6,"i":9.5,"s":"270"},{"w":637.7,"i":13,"s":"270"},{"w":639.7,"i":19.7,"s":"270"},{"w":642,"i":28.6,"s":"270"},{"w":644,"i":32,"s":"270"},{"w":645.8,"i":32.6,"s":"270"},{"w":647,"i":36.6,"s":"270"},{"w":649.2,"i":52.5,"s":"270"},{"w":651.2,"i":61.4,"s":"270"},{"w":652.2,"i":62.2,"s":"270"},{"w":653.6,"i":61.6,"s":"270"},{"w":654.8,"i":61,"s":"270"},{"w":656,"i":63.6,"s":"270"},{"w":657.6,"i":77.4,"s":"270"},{"w":659,"i":89.8,"s":"270"},{"w":660.1,"i":91.7,"s":"270"},{"w":661.4,"i":89.8,"s":"270"},{"w":663,"i":81.8,"s":"270"},{"w":664.8,"i":77.4,"s":"270"},{"w":666,"i":78.4,"s":"270"},{"w":667.2,"i":79.9,"s":"270"},{"w":668.4,"i":76.9,"s":"270"},{"w":670,"i":62.3,"s":"270"},{"w":671.8,"i":41.9,"s":"270"},{"w":673.9,"i":25,"s":"270"},{"w":675.5,"i":20.1,"s":"270"},{"w":677.9,"i":15.3,"s":"270"},{"w":680.3,"i":11.3,"s":"270"},{"w":683,"i":9.5,"s":"270"},{"w":686.4,"i":8.9,"s":"270"},{"w":700,"i":8.3,"s":"270"}]},"mark":{"type":"line","interpolate":"monotone","strokeWidth":3},"encoding":{"color":{"field":"s","type":"nominal","scale":{"domain":["230","240","250","260","270"],"range":["#3a3a3a","#f01010","#1010e0","#10e040","#d050d8"]},"legend":null}}},{"data":{"values":[{"w":670.7,"i":95.6,"s":"230"},{"w":677,"i":95.6,"s":"230"},{"w":670.7,"i":86.6,"s":"240"},{"w":677,"i":86.6,"s":"240"},{"w":670.7,"i":77.7,"s":"250"},{"w":677,"i":77.7,"s":"250"},{"w":670.7,"i":68.9,"s":"260"},{"w":677,"i":68.9,"s":"260"},{"w":670.7,"i":60.2,"s":"270"},{"w":677,"i":60.2,"s":"270"}]},"mark":{"type":"line","strokeWidth":3},"encoding":{"color":{"field":"s","type":"nominal","legend":null}}},{"data":{"values":[{"w":621.3,"i":92.3,"t":"Cs"},{"w":627.2,"i":92.3,"t":"NaHo"},{"w":642.1,"i":92.3,"t":"Cl"},{"w":648.9,"i":92.3,"t":":"},{"w":653.2,"i":92.3,"t":"Sb"},{"w":625.5,"i":82.7,"t":"= 0.008"}]},"mark":{"type":"text","align":"left","baseline":"alphabetic","fontWeight":"bold","fontSize":24},"encoding":{"text":{"field":"t"}}},{"data":{"values":[{"w":625.9,"i":90.7,"t":"2"},{"w":638,"i":90.7,"t":"1-"},{"w":646.3,"i":90.7,"t":"6"},{"w":658,"i":94.7,"t":"3+"}]},"mark":{"type":"text","align":"left","baseline":"alphabetic","fontWeight":"bold","fontSize":15},"encoding":{"text":{"field":"t"}}},{"data":{"values":[{"w":651.1,"i":92.3,"t":"x"},{"w":622.2,"i":82.7,"t":"x"}]},"mark":{"type":"text","align":"left","baseline":"alphabetic","fontWeight":"bold","fontStyle":"italic","fontSize":24},"encoding":{"text":{"field":"t"}}},{"data":{"values":[{"w":640.2,"i":90.7,"t":"x"}]},"mark":{"type":"text","align":"left","baseline":"alphabetic","fontWeight":"bold","fontStyle":"italic","fontSize":15},"encoding":{"text":{"field":"t"}}},{"data":{"values":[{"w":678.1,"i":94.1,"t":"λ"},{"w":678.1,"i":85.2,"t":"λ"},{"w":678.1,"i":76.3,"t":"λ"},{"w":678.1,"i":67.4,"t":"λ"},{"w":678.1,"i":58.7,"t":"λ"},{"w":684.7,"i":94.1,"t":"= 230 nm"},{"w":684.7,"i":85.2,"t":"= 240 nm"},{"w":684.7,"i":76.3,"t":"= 250 nm"},{"w":684.7,"i":67.4,"t":"= 260 nm"},{"w":684.7,"i":58.7,"t":"= 270 nm"}]},"mark":{"type":"text","align":"left","baseline":"alphabetic","fontSize":22},"encoding":{"text":{"field":"t"}}},{"data":{"values":[{"w":680.1,"i":92.6,"t":"ex"},{"w":680.1,"i":83.8,"t":"ex"},{"w":680.1,"i":74.9,"t":"ex"},{"w":680.1,"i":66.1,"t":"ex"},{"w":680.1,"i":57.2,"t":"ex"}]},"mark":{"type":"text","align":"left","baseline":"alphabetic","fontSize":20},"encoding":{"text":{"field":"t"}}}]},{"width":474,"height":377,"title":{"text":"(e)","dx":-95,"offset":3,"dy":12},"view":{"stroke":null},"encoding":{"x":{"field":"m","type":"quantitative","scale":{"domain":[632.33,680.03],"nice":false},"axis":{"title":null,"values":[640,645,650,655,660,665,670],"labelExpr":"datum.value%10==0?datum.label:''","tickSize":{"condition":{"test":"datum.value%10==0","value":7},"value":4}}},"y":{"field":"lo","type":"quantitative","scale":{"domain":[200,504.03],"nice":false},"axis":{"title":null,"offset":-36.5,"values":[200,225,250,275,300,325,350,375,400,425,450,475,500],"labelExpr":"datum.value%50==0?datum.label:''","tickSize":{"condition":{"test":"datum.value%50==0","value":7},"value":4}}}},"layer":[{"data":{"values":[{"m":636,"m2":675,"lo":200,"hi":500}]},"mark":{"type":"rect","color":"#6a0a70"},"encoding":{"x2":{"field":"m2"},"y2":{"field":"hi"}}},{"data":{"values":[{"b":"T1","l":0.07,"m":637,"lo":455,"hi":455},{"b":"T1","l":0.07,"m":642,"lo":447,"hi":465},{"b":"T1","l":0.07,"m":660,"lo":442,"hi":468},{"b":"T1","l":0.07,"m":672,"lo":447,"hi":465},{"b":"T1","l":0.07,"m":675,"lo":450,"hi":460},{"b":"U1","l":0.07,"m":636,"lo":312,"hi":352},{"b":"U1","l":0.07,"m":645,"lo":300,"hi":362},{"b":"U1","l":0.07,"m":655,"lo":299,"hi":371},{"b":"U1","l":0.07,"m":660,"lo":299,"hi":373},{"b":"U1","l":0.07,"m":665,"lo":299,"hi":371},{"b":"U1","l":0.07,"m":675,"lo":312,"hi":352},{"b":"L1","l":0.07,"m":636,"lo":262,"hi":292},{"b":"L1","l":0.07,"m":640,"lo":240,"hi":298},{"b":"L1","l":0.07,"m":645,"lo":232,"hi":301},{"b":"L1","l":0.07,"m":650,"lo":229,"hi":301},{"b":"L1","l":0.07,"m":660,"lo":228,"hi":301},{"b":"L1","l":0.07,"m":670,"lo":231,"hi":301},{"b":"L1","l":0.07,"m":675,"lo":258,"hi":292},{"b":"T2","l":0.09,"m":639.5,"lo":453,"hi":453},{"b":"T2","l":0.09,"m":645,"lo":449,"hi":461},{"b":"T2","l":0.09,"m":660,"lo":446,"hi":463},{"b":"T2","l":0.09,"m":670,"lo":449,"hi":461},{"b":"T2","l":0.09,"m":674,"lo":452,"hi":452},{"b":"B1","l":0.09,"m":638,"lo":200,"hi":200},{"b":"B1","l":0.09,"m":645,"lo":200,"hi":228},{"b":"B1","l":0.09,"m":655,"lo":200,"hi":232},{"b":"B1","l":0.09,"m":665,"lo":200,"hi":232},{"b":"B1","l":0.09,"m":670,"lo":200,"hi":228},{"b":"B1","l":0.09,"m":675,"lo":200,"hi":200},{"b":"T3","l":0.11,"m":645,"lo":452,"hi":452},{"b":"T3","l":0.11,"m":650,"lo":450,"hi":456},{"b":"T3","l":0.11,"m":660,"lo":449,"hi":458},{"b":"T3","l":0.11,"m":668,"lo":450,"hi":457},{"b":"T3","l":0.11,"m":670,"lo":452,"hi":452},{"b":"U2","l":0.11,"m":636,"lo":322,"hi":338},{"b":"U2","l":0.11,"m":638,"lo":310,"hi":350},{"b":"U2","l":0.11,"m":645,"lo":300,"hi":357},{"b":"U2","l":0.11,"m":660,"lo":299,"hi":366},{"b":"U2","l":0.11,"m":670,"lo":300,"hi":358},{"b":"U2","l":0.11,"m":675,"lo":322,"hi":345},{"b":"L2","l":0.11,"m":636.5,"lo":280,"hi":280},{"b":"L2","l":0.11,"m":638,"lo":264,"hi":290},{"b":"L2","l":0.11,"m":642,"lo":244,"hi":297},{"b":"L2","l":0.11,"m":648,"lo":234,"hi":301},{"b":"L2","l":0.11,"m":660,"lo":229,"hi":301},{"b":"L2","l":0.11,"m":668,"lo":232,"hi":301},{"b":"L2","l":0.11,"m":672,"lo":250,"hi":296},{"b":"L2","l":0.11,"m":675,"lo":280,"hi":280},{"b":"B2","l":0.13,"m":642,"lo":200,"hi":200},{"b":"B2","l":0.13,"m":647,"lo":200,"hi":225},{"b":"B2","l":0.13,"m":655,"lo":200,"hi":230},{"b":"B2","l":0.13,"m":665,"lo":200,"hi":230},{"b":"B2","l":0.13,"m":669,"lo":200,"hi":226},{"b":"B2","l":0.13,"m":673,"lo":200,"hi":200},{"b":"T4","l":0.14,"m":654,"lo":452,"hi":452},{"b":"T4","l":0.14,"m":660,"lo":450,"hi":454},{"b":"T4","l":0.14,"m":664,"lo":452,"hi":452},{"b":"U3","l":0.155,"m":637,"lo":328,"hi":328},{"b":"U3","l":0.155,"m":638,"lo":313,"hi":345},{"b":"U3","l":0.155,"m":645,"lo":301,"hi":356},{"b":"U3","l":0.155,"m":660,"lo":299,"hi":363},{"b":"U3","l":0.155,"m":670,"lo":301,"hi":354},{"b":"U3","l":0.155,"m":673.5,"lo":314,"hi":342},{"b":"U3","l":0.155,"m":674.5,"lo":328,"hi":328},{"b":"L3","l":0.155,"m":637,"lo":280,"hi":280},{"b":"L3","l":0.155,"m":638.5,"lo":265,"hi":288},{"b":"L3","l":0.155,"m":643,"lo":246,"hi":296},{"b":"L3","l":0.155,"m":650,"lo":233,"hi":301},{"b":"L3","l":0.155,"m":660,"lo":230,"hi":301},{"b":"L3","l":0.155,"m":668,"lo":234,"hi":301},{"b":"L3","l":0.155,"m":672,"lo":258,"hi":292},{"b":"L3","l":0.155,"m":674.5,"lo":280,"hi":280},{"b":"B3","l":0.155,"m":646,"lo":200,"hi":200},{"b":"B3","l":0.155,"m":650,"lo":200,"hi":226},{"b":"B3","l":0.155,"m":656,"lo":200,"hi":230},{"b":"B3","l":0.155,"m":664,"lo":200,"hi":230},{"b":"B3","l":0.155,"m":667,"lo":200,"hi":225},{"b":"B3","l":0.155,"m":670,"lo":200,"hi":200},{"b":"B4","l":0.21,"m":650,"lo":200,"hi":200},{"b":"B4","l":0.21,"m":654,"lo":200,"hi":226},{"b":"B4","l":0.21,"m":660,"lo":200,"hi":229},{"b":"B4","l":0.21,"m":665,"lo":200,"hi":226},{"b":"B4","l":0.21,"m":668,"lo":200,"hi":200},{"b":"U4","l":0.23,"m":638.7,"lo":328,"hi":328},{"b":"U4","l":0.23,"m":640,"lo":313,"hi":342},{"b":"U4","l":0.23,"m":645,"lo":303,"hi":353},{"b":"U4","l":0.23,"m":655,"lo":300,"hi":359},{"b":"U4","l":0.23,"m":660,"lo":299,"hi":360},{"b":"U4","l":0.23,"m":668,"lo":300,"hi":353},{"b":"U4","l":0.23,"m":672,"lo":312,"hi":342},{"b":"U4","l":0.23,"m":673.5,"lo":328,"hi":328},{"b":"L4","l":0.23,"m":639,"lo":280,"hi":280},{"b":"L4","l":0.23,"m":640,"lo":268,"hi":286},{"b":"L4","l":0.23,"m":645,"lo":245,"hi":294},{"b":"L4","l":0.23,"m":650,"lo":236,"hi":300},{"b":"L4","l":0.23,"m":660,"lo":232,"hi":301},{"b":"L4","l":0.23,"m":667,"lo":236,"hi":300},{"b":"L4","l":0.23,"m":671,"lo":260,"hi":288},{"b":"L4","l":0.23,"m":673,"lo":280,"hi":280},{"b":"B5","l":0.26,"m":654,"lo":200,"hi":200},{"b":"B5","l":0.26,"m":656,"lo":200,"hi":222},{"b":"B5","l":0.26,"m":660,"lo":200,"hi":225},{"b":"B5","l":0.26,"m":664.5,"lo":200,"hi":220},{"b":"B5","l":0.26,"m":666.5,"lo":200,"hi":200},{"b":"U5","l":0.28,"m":640,"lo":328,"hi":328},{"b":"U5","l":0.28,"m":641.5,"lo":312,"hi":341},{"b":"U5","l":0.28,"m":648,"lo":301,"hi":352},{"b":"U5","l":0.28,"m":660,"lo":299,"hi":358},{"b":"U5","l":0.28,"m":668,"lo":300,"hi":351},{"b":"U5","l":0.28,"m":671,"lo":314,"hi":341},{"b":"U5","l":0.28,"m":672.5,"lo":328,"hi":328},{"b":"L5","l":0.28,"m":640.5,"lo":280,"hi":280},{"b":"L5","l":0.28,"m":642,"lo":265,"hi":284},{"b":"L5","l":0.28,"m":646,"lo":247,"hi":292},{"b":"L5","l":0.28,"m":651,"lo":236,"hi":300},{"b":"L5","l":0.28,"m":660,"lo":233,"hi":301},{"b":"L5","l":0.28,"m":666,"lo":236,"hi":300},{"b":"L5","l":0.28,"m":670,"lo":262,"hi":287},{"b":"L5","l":0.28,"m":672,"lo":280,"hi":280},{"b":"U6","l":0.355,"m":642.8,"lo":325,"hi":325},{"b":"U6","l":0.355,"m":645,"lo":316,"hi":340},{"b":"U6","l":0.355,"m":650,"lo":306,"hi":351},{"b":"U6","l":0.355,"m":655,"lo":301,"hi":354},{"b":"U6","l":0.355,"m":660,"lo":299.5,"hi":355.5},{"b":"U6","l":0.355,"m":665,"lo":301,"hi":352},{"b":"U6","l":0.355,"m":668,"lo":305,"hi":349},{"b":"U6","l":0.355,"m":670,"lo":318,"hi":340},{"b":"U6","l":0.355,"m":671,"lo":328,"hi":328},{"b":"L6","l":0.355,"m":642.3,"lo":279,"hi":279},{"b":"L6","l":0.355,"m":644,"lo":268,"hi":284},{"b":"L6","l":0.355,"m":648,"lo":246,"hi":290},{"b":"L6","l":0.355,"m":652,"lo":238,"hi":295},{"b":"L6","l":0.355,"m":656,"lo":236.5,"hi":298.5},{"b":"L6","l":0.355,"m":660,"lo":236,"hi":300},{"b":"L6","l":0.355,"m":664,"lo":237,"hi":298.5},{"b":"L6","l":0.355,"m":666,"lo":238,"hi":296},{"b":"L6","l":0.355,"m":670,"lo":263,"hi":284},{"b":"L6","l":0.355,"m":671.5,"lo":279,"hi":279},{"b":"U7","l":0.42,"m":645,"lo":326,"hi":326},{"b":"U7","l":0.42,"m":647,"lo":312,"hi":340},{"b":"U7","l":0.42,"m":652,"lo":307,"hi":350},{"b":"U7","l":0.42,"m":660,"lo":303,"hi":354},{"b":"U7","l":0.42,"m":667,"lo":307,"hi":347},{"b":"U7","l":0.42,"m":669.5,"lo":320,"hi":337},{"b":"U7","l":0.42,"m":670.3,"lo":328,"hi":328},{"b":"L7","l":0.42,"m":644.5,"lo":279,"hi":279},{"b":"L7","l":0.42,"m":646,"lo":262,"hi":284},{"b":"L7","l":0.42,"m":650,"lo":243,"hi":289},{"b":"L7","l":0.42,"m":654,"lo":239,"hi":292},{"b":"L7","l":0.42,"m":660,"lo":238,"hi":297.5},{"b":"L7","l":0.42,"m":666,"lo":240,"hi":293},{"b":"L7","l":0.42,"m":669,"lo":265,"hi":282},{"b":"L7","l":0.42,"m":670,"lo":279,"hi":279},{"b":"U8","l":0.49,"m":646.5,"lo":326,"hi":326},{"b":"U8","l":0.49,"m":648,"lo":314,"hi":338},{"b":"U8","l":0.49,"m":652,"lo":308,"hi":349},{"b":"U8","l":0.49,"m":660,"lo":306,"hi":352},{"b":"U8","l":0.49,"m":666,"lo":309,"hi":346},{"b":"U8","l":0.49,"m":669,"lo":320,"hi":335},{"b":"U8","l":0.49,"m":669.6,"lo":328,"hi":328},{"b":"L8","l":0.49,"m":645.5,"lo":280,"hi":280},{"b":"L8","l":0.49,"m":648,"lo":262,"hi":285},{"b":"L8","l":0.49,"m":651,"lo":250,"hi":288},{"b":"L8","l":0.49,"m":655,"lo":243,"hi":291},{"b":"L8","l":0.49,"m":660,"lo":241.5,"hi":295},{"b":"L8","l":0.49,"m":665,"lo":243,"hi":291},{"b":"L8","l":0.49,"m":668.5,"lo":268,"hi":283},{"b":"L8","l":0.49,"m":669.3,"lo":279,"hi":279},{"b":"U9","l":0.585,"m":648,"lo":326,"hi":326},{"b":"U9","l":0.585,"m":650,"lo":314,"hi":337},{"b":"U9","l":0.585,"m":654,"lo":310,"hi":347},{"b":"U9","l":0.585,"m":660,"lo":309,"hi":349.5},{"b":"U9","l":0.585,"m":666,"lo":312,"hi":345},{"b":"U9","l":0.585,"m":668,"lo":320,"hi":335},{"b":"U9","l":0.585,"m":668.8,"lo":328,"hi":328},{"b":"L9","l":0.585,"m":647.5,"lo":280,"hi":280},{"b":"L9","l":0.585,"m":650,"lo":264,"hi":286},{"b":"L9","l":0.585,"m":655,"lo":250,"hi":290},{"b":"L9","l":0.585,"m":660,"lo":246,"hi":292},{"b":"L9","l":0.585,"m":665,"lo":248,"hi":289},{"b":"L9","l":0.585,"m":667,"lo":262,"hi":285},{"b":"L9","l":0.585,"m":668.5,"lo":280,"hi":280},{"b":"U10","l":0.7,"m":650,"lo":326,"hi":326},{"b":"U10","l":0.7,"m":652,"lo":315,"hi":336},{"b":"U10","l":0.7,"m":655,"lo":312,"hi":345},{"b":"U10","l":0.7,"m":660,"lo":311,"hi":347},{"b":"U10","l":0.7,"m":665.5,"lo":313,"hi":344},{"b":"U10","l":0.7,"m":667.5,"lo":321,"hi":335},{"b":"U10","l":0.7,"m":668.2,"lo":328,"hi":328},{"b":"L10","l":0.7,"m":649,"lo":280,"hi":280},{"b":"L10","l":0.7,"m":651,"lo":267,"hi":286},{"b":"L10","l":0.7,"m":655,"lo":254,"hi":288},{"b":"L10","l":0.7,"m":660,"lo":250,"hi":290},{"b":"L10","l":0.7,"m":665,"lo":254,"hi":288},{"b":"L10","l":0.7,"m":667,"lo":265,"hi":284},{"b":"L10","l":0.7,"m":667.8,"lo":280,"hi":280},{"b":"U11","l":0.8,"m":650.8,"lo":322,"hi":322},{"b":"U11","l":0.8,"m":653,"lo":316,"hi":338},{"b":"U11","l":0.8,"m":656,"lo":313,"hi":344},{"b":"U11","l":0.8,"m":660,"lo":312,"hi":346},{"b":"U11","l":0.8,"m":665,"lo":314,"hi":343},{"b":"U11","l":0.8,"m":667,"lo":320,"hi":335},{"b":"U11","l":0.8,"m":667.6,"lo":328,"hi":328},{"b":"L11","l":0.8,"m":650,"lo":279,"hi":279},{"b":"L11","l":0.8,"m":652,"lo":270,"hi":285},{"b":"L11","l":0.8,"m":656,"lo":258,"hi":287},{"b":"L11","l":0.8,"m":660,"lo":252,"hi":288.5},{"b":"L11","l":0.8,"m":665,"lo":258,"hi":286},{"b":"L11","l":0.8,"m":666.5,"lo":270,"hi":283},{"b":"L11","l":0.8,"m":667,"lo":278,"hi":278},{"b":"U12","l":0.86,"m":655,"lo":320,"hi":320},{"b":"U12","l":0.86,"m":658,"lo":316,"hi":330},{"b":"U12","l":0.86,"m":660,"lo":314,"hi":340},{"b":"U12","l":0.86,"m":662,"lo":315,"hi":332},{"b":"U12","l":0.86,"m":664.5,"lo":320,"hi":320},{"b":"L12","l":0.86,"m":654,"lo":278,"hi":278},{"b":"L12","l":0.86,"m":657,"lo":270,"hi":283},{"b":"L12","l":0.86,"m":660,"lo":268,"hi":284},{"b":"L12","l":0.86,"m":664,"lo":274,"hi":282},{"b":"L12","l":0.86,"m":665.5,"lo":278,"hi":278},{"b":"U13","l":0.9,"m":657,"lo":318,"hi":318},{"b":"U13","l":0.9,"m":660,"lo":316,"hi":335},{"b":"U13","l":0.9,"m":663,"lo":318,"hi":318},{"b":"L13","l":0.93,"m":657,"lo":278,"hi":278},{"b":"L13","l":0.93,"m":659,"lo":273,"hi":282},{"b":"L13","l":0.93,"m":660,"lo":272,"hi":282.5},{"b":"L13","l":0.93,"m":661,"lo":273,"hi":282},{"b":"L13","l":0.93,"m":663.5,"lo":278,"hi":278},{"b":"L14","l":0.98,"m":658.5,"lo":278,"hi":278},{"b":"L14","l":0.98,"m":660,"lo":275,"hi":281},{"b":"L14","l":0.98,"m":661.5,"lo":278,"hi":278}]},"mark":{"type":"area","interpolate":"monotone","clip":true},"encoding":{"y2":{"field":"hi"},"detail":{"field":"b"},"color":{"field":"l","type":"quantitative","scale":{"domain":[-0.02,0,0.07,0.11,0.155,0.23,0.28,0.355,0.42,0.49,0.585,0.66,0.72,0.84,0.93,1],"range":["#000000","#6a0070","#700088","#7000ff","#0000ff","#0090ff","#00ffff","#00ff00","#80ff00","#ffff00","#ffa000","#ff2000","#ff0000","#e00000","#900000","#4a0010"],"interpolate":"rgb"},"legend":null}}},{"data":{"values":[{"m":636,"m2":675,"lo":200,"hi":500}]},"mark":{"type":"rect","fillOpacity":0,"stroke":"#222222","strokeWidth":3},"encoding":{"x2":{"field":"m2"},"y2":{"field":"hi"}}},{"data":{"values":[{"l":-0.02,"m":675.6,"m2":678.6,"lo":201.6,"hi":205.6},{"l":0.0125,"m":675.6,"m2":678.6,"lo":205.6,"hi":212.86},{"l":0.0375,"m":675.6,"m2":678.6,"lo":212.86,"hi":220.12},{"l":0.0625,"m":675.6,"m2":678.6,"lo":220.12,"hi":227.38},{"l":0.0875,"m":675.6,"m2":678.6,"lo":227.38,"hi":234.64},{"l":0.1125,"m":675.6,"m2":678.6,"lo":234.64,"hi":241.9},{"l":0.1375,"m":675.6,"m2":678.6,"lo":241.9,"hi":249.16},{"l":0.1625,"m":675.6,"m2":678.6,"lo":249.16,"hi":256.42},{"l":0.1875,"m":675.6,"m2":678.6,"lo":256.42,"hi":263.68},{"l":0.2125,"m":675.6,"m2":678.6,"lo":263.68,"hi":270.94},{"l":0.2375,"m":675.6,"m2":678.6,"lo":270.94,"hi":278.2},{"l":0.2625,"m":675.6,"m2":678.6,"lo":278.2,"hi":285.46},{"l":0.2875,"m":675.6,"m2":678.6,"lo":285.46,"hi":292.72},{"l":0.3125,"m":675.6,"m2":678.6,"lo":292.72,"hi":299.98},{"l":0.3375,"m":675.6,"m2":678.6,"lo":299.98,"hi":307.24},{"l":0.3625,"m":675.6,"m2":678.6,"lo":307.24,"hi":314.5},{"l":0.3875,"m":675.6,"m2":678.6,"lo":314.5,"hi":321.76},{"l":0.4125,"m":675.6,"m2":678.6,"lo":321.76,"hi":329.02},{"l":0.4375,"m":675.6,"m2":678.6,"lo":329.02,"hi":336.28},{"l":0.4625,"m":675.6,"m2":678.6,"lo":336.28,"hi":343.54},{"l":0.4875,"m":675.6,"m2":678.6,"lo":343.54,"hi":350.8},{"l":0.5125,"m":675.6,"m2":678.6,"lo":350.8,"hi":358.06},{"l":0.5375,"m":675.6,"m2":678.6,"lo":358.06,"hi":365.32},{"l":0.5625,"m":675.6,"m2":678.6,"lo":365.32,"hi":372.58},{"l":0.5875,"m":675.6,"m2":678.6,"lo":372.58,"hi":379.84},{"l":0.6125,"m":675.6,"m2":678.6,"lo":379.84,"hi":387.1},{"l":0.6375,"m":675.6,"m2":678.6,"lo":387.1,"hi":394.36},{"l":0.6625,"m":675.6,"m2":678.6,"lo":394.36,"hi":401.62},{"l":0.6875,"m":675.6,"m2":678.6,"lo":401.62,"hi":408.88},{"l":0.7125,"m":675.6,"m2":678.6,"lo":408.88,"hi":416.14},{"l":0.7375,"m":675.6,"m2":678.6,"lo":416.14,"hi":423.4},{"l":0.7625,"m":675.6,"m2":678.6,"lo":423.4,"hi":430.66},{"l":0.7875,"m":675.6,"m2":678.6,"lo":430.66,"hi":437.92},{"l":0.8125,"m":675.6,"m2":678.6,"lo":437.92,"hi":445.18},{"l":0.8375,"m":675.6,"m2":678.6,"lo":445.18,"hi":452.44},{"l":0.8625,"m":675.6,"m2":678.6,"lo":452.44,"hi":459.7},{"l":0.8875,"m":675.6,"m2":678.6,"lo":459.7,"hi":466.96},{"l":0.9125,"m":675.6,"m2":678.6,"lo":466.96,"hi":474.22},{"l":0.9375,"m":675.6,"m2":678.6,"lo":474.22,"hi":481.48},{"l":0.9625,"m":675.6,"m2":678.6,"lo":481.48,"hi":488.74},{"l":0.9875,"m":675.6,"m2":678.6,"lo":488.74,"hi":496}]},"mark":{"type":"rect"},"encoding":{"x2":{"field":"m2"},"y2":{"field":"hi"},"color":{"field":"l","type":"quantitative","scale":{"domain":[-0.02,0,0.07,0.11,0.155,0.23,0.28,0.355,0.42,0.49,0.585,0.66,0.72,0.84,0.93,1],"range":["#000000","#6a0070","#700088","#7000ff","#0000ff","#0090ff","#00ffff","#00ff00","#80ff00","#ffff00","#ffa000","#ff2000","#ff0000","#e00000","#900000","#4a0010"],"interpolate":"rgb"},"legend":null}}},{"data":{"values":[{"m":648.5,"lo":136.4,"t":"λ"},{"m":654.9,"lo":136.4,"t":"(nm)"}]},"mark":{"type":"text","align":"left","baseline":"alphabetic","fontWeight":"bold","fontSize":37},"encoding":{"text":{"field":"t"}}},{"data":{"values":[{"m":650.3,"lo":127,"t":"em"}]},"mark":{"type":"text","align":"left","baseline":"alphabetic","fontWeight":"bold","fontSize":26},"encoding":{"text":{"field":"t"}}},{"data":{"values":[{"m":628.9,"lo":296.7,"t":"λ"},{"m":628.9,"lo":341.1,"t":"(nm)"}]},"mark":{"type":"text","align":"left","baseline":"alphabetic","angle":-90,"fontWeight":"bold","fontSize":37},"encoding":{"text":{"field":"t"}}},{"data":{"values":[{"m":629.6,"lo":312.3,"t":"ex"}]},"mark":{"type":"text","align":"left","baseline":"alphabetic","angle":-90,"fontWeight":"bold","fontSize":26},"encoding":{"text":{"field":"t"}}}]},{"width":474,"height":377,"view":{"stroke":null},"encoding":{"x":{"field":"u","type":"quantitative","scale":{"domain":[298,1516],"nice":false},"axis":null},"y":{"field":"v","type":"quantitative","scale":{"domain":[1215,84],"nice":false},"axis":null}},"layer":[{"data":{"values":[{"g":"a","u":353,"v":245},{"g":"a","u":390,"v":1100},{"g":"b","u":450,"v":192},{"g":"b","u":470,"v":1010},{"g":"c","u":543,"v":140},{"g":"c","u":555,"v":950},{"g":"d","u":625,"v":95},{"g":"d","u":632,"v":905},{"g":"e","u":255,"v":420},{"g":"e","u":703,"v":150},{"g":"f","u":262,"v":530},{"g":"f","u":703,"v":285},{"g":"g","u":268,"v":645},{"g":"g","u":703,"v":420},{"g":"h","u":278,"v":750},{"g":"h","u":703,"v":560},{"g":"i","u":285,"v":855},{"g":"i","u":703,"v":690},{"g":"j","u":292,"v":955},{"g":"j","u":703,"v":800},{"g":"k","u":703,"v":150},{"g":"k","u":1368,"v":295},{"g":"l","u":703,"v":285},{"g":"l","u":1360,"v":400},{"g":"m","u":703,"v":420},{"g":"m","u":1352,"v":500},{"g":"n","u":703,"v":560},{"g":"n","u":1345,"v":600},{"g":"o","u":703,"v":690},{"g":"o","u":1340,"v":700},{"g":"p","u":703,"v":800},{"g":"p","u":1333,"v":815},{"g":"q","u":703,"v":860},{"g":"q","u":1328,"v":920},{"g":"r","u":785,"v":68},{"g":"r","u":795,"v":870},{"g":"s","u":868,"v":87},{"g":"s","u":860,"v":885},{"g":"t","u":953,"v":105},{"g":"t","u":935,"v":905},{"g":"w","u":1045,"v":125},{"g":"w","u":1020,"v":925},{"g":"x","u":1135,"v":143},{"g":"x","u":1105,"v":945},{"g":"y","u":1230,"v":165},{"g":"y","u":1195,"v":965},{"g":"z","u":1325,"v":183},{"g":"z","u":1290,"v":975}]},"mark":{"type":"line","strokeWidth":1,"color":"#dcdcdc"},"encoding":{"detail":{"field":"g"}}},{"data":{"values":[{"g":"a","u":250,"v":300},{"g":"a","u":703,"v":50},{"g":"b","u":703,"v":50},{"g":"b","u":1373,"v":187},{"g":"c","u":1373,"v":187},{"g":"c","u":1325,"v":985},{"g":"d","u":703,"v":50},{"g":"d","u":704,"v":860}]},"mark":{"type":"line","strokeWidth":1.2,"color":"#9a9a9a"},"encoding":{"detail":{"field":"g"}}},{"data":{"values":[{"u":300,"v":1145,"v2":1145},{"u":703,"v":860,"v2":1310},{"u":985,"v":917,"v2":1425},{"u":1325,"v":985,"v2":985}]},"mark":{"type":"area","color":"#6a0a70"},"encoding":{"y2":{"field":"v2"}}},{"data":{"values":[{"u":300,"v":1085,"v2":1110},{"u":350,"v":1070,"v2":1170},{"u":410,"v":1005,"v2":1110},{"u":440,"v":995,"v2":1075},{"u":490,"v":920,"v2":1060},{"u":650,"v":900,"v2":1085},{"u":780,"v":900,"v2":1130},{"u":880,"v":900,"v2":1090},{"u":950,"v":960,"v2":990}]},"mark":{"type":"area","interpolate":"monotone","color":{"gradient":"linear","x1":0,"y1":0,"x2":0,"y2":1,"stops":[{"offset":0,"color":"#6a10e0"},{"offset":0.6,"color":"#7a08c8"},{"offset":1,"color":"#6a0a78"}]}},"encoding":{"y2":{"field":"v2"}}},{"data":{"values":[{"u":490,"v":930,"v2":960},{"u":540,"v":770,"v2":1000},{"u":590,"v":757,"v2":1000},{"u":720,"v":757,"v2":1000}]},"mark":{"type":"area","color":{"gradient":"linear","x1":0,"y1":0,"x2":0,"y2":1,"stops":[{"offset":0,"color":"#0a90e8"},{"offset":0.25,"color":"#0070f0"},{"offset":0.55,"color":"#0000ff"},{"offset":1,"color":"#7000e0"}]}},"encoding":{"y2":{"field":"v2"}}},{"data":{"values":[{"u":565,"v":960,"v2":960},{"u":590,"v":770,"v2":975},{"u":610,"v":680,"v2":985},{"u":632,"v":590,"v2":990},{"u":655,"v":490,"v2":990},{"u":685,"v":340,"v2":990},{"u":713,"v":210,"v2":985},{"u":735,"v":280,"v2":975},{"u":745,"v":450,"v2":960},{"u":757,"v":530,"v2":950},{"u":765,"v":700,"v2":900}]},"mark":{"type":"area","interpolate":"monotone","color":{"gradient":"linear","x1":0,"y1":0,"x2":0,"y2":1,"stops":[{"offset":0,"color":"#600010"},{"offset":0.1,"color":"#a00000"},{"offset":0.2,"color":"#ff0000"},{"offset":0.38,"color":"#ff0000"},{"offset":0.46,"color":"#ff9000"},{"offset":0.53,"color":"#ffff00"},{"offset":0.63,"color":"#60ff00"},{"offset":0.72,"color":"#00e000"},{"offset":0.8,"color":"#00ffff"},{"offset":0.91,"color":"#0000ff"},{"offset":1,"color":"#7000c8"}]}},"encoding":{"y2":{"field":"v2"}}},{"data":{"values":[{"u":700,"v":985,"v2":990},{"u":730,"v":800,"v2":1010},{"u":745,"v":680,"v2":1020},{"u":760,"v":510,"v2":1030},{"u":780,"v":340,"v2":1030},{"u":800,"v":305,"v2":1030},{"u":815,"v":340,"v2":1030},{"u":838,"v":338,"v2":1030},{"u":868,"v":430,"v2":1025},{"u":880,"v":540,"v2":1020},{"u":890,"v":640,"v2":1015},{"u":905,"v":790,"v2":1010},{"u":920,"v":900,"v2":1005},{"u":945,"v":990,"v2":1000}]},"mark":{"type":"area","interpolate":"monotone","color":{"gradient":"linear","x1":0,"y1":0,"x2":0,"y2":1,"stops":[{"offset":0,"color":"#700010"},{"offset":0.09,"color":"#c00000"},{"offset":0.15,"color":"#ff0000"},{"offset":0.28,"color":"#ff0000"},{"offset":0.38,"color":"#ff9000"},{"offset":0.47,"color":"#ffff00"},{"offset":0.6,"color":"#40ff00"},{"offset":0.68,"color":"#00e000"},{"offset":0.77,"color":"#00ffff"},{"offset":0.87,"color":"#0000ff"},{"offset":1,"color":"#7000c8"}]}},"encoding":{"y2":{"field":"v2"}}},{"data":{"values":[{"u":1005,"v":1180,"v2":1180},{"u":1080,"v":1030,"v2":1190},{"u":1105,"v":1005,"v2":1160},{"u":1135,"v":1030,"v2":1110},{"u":1165,"v":1050,"v2":1050}]},"mark":{"type":"area","color":{"gradient":"linear","x1":0,"y1":0,"x2":0,"y2":1,"stops":[{"offset":0,"color":"#5a10f0"},{"offset":1,"color":"#6a0a90"}]}},"encoding":{"y2":{"field":"v2"}}},{"data":{"values":[{"g":"a","u":632,"v":640},{"g":"a","u":665,"v":650},{"g":"a","u":750,"v":610},{"g":"b","u":610,"v":690},{"g":"b","u":660,"v":735},{"g":"b","u":740,"v":705},{"g":"c","u":590,"v":790},{"g":"c","u":650,"v":820},{"g":"c","u":730,"v":795},{"g":"d","u":745,"v":675},{"g":"d","u":800,"v":685},{"g":"d","u":888,"v":640},{"g":"e","u":735,"v":765},{"g":"e","u":790,"v":770},{"g":"e","u":895,"v":720},{"g":"f","u":725,"v":840},{"g":"f","u":790,"v":855},{"g":"f","u":905,"v":790},{"g":"h","u":650,"v":540},{"g":"h","u":690,"v":570},{"g":"h","u":755,"v":530},{"g":"i","u":760,"v":590},{"g":"i","u":810,"v":598},{"g":"i","u":882,"v":560},{"g":"j","u":765,"v":495},{"g":"j","u":820,"v":505},{"g":"j","u":878,"v":480}]},"mark":{"type":"line","strokeWidth":1,"color":"#7f7f9f"},"encoding":{"detail":{"field":"g"}}},{"data":{"values":[{"g":"a","u":580,"v":1135},{"g":"a","u":760,"v":1205},{"g":"b","u":930,"v":1270},{"g":"b","u":1055,"v":1320},{"g":"c","u":1190,"v":1030},{"g":"c","u":1280,"v":1060},{"g":"d","u":650,"v":1145},{"g":"d","u":570,"v":1255},{"g":"e","u":1185,"v":950},{"g":"e","u":980,"v":1190}]},"mark":{"type":"line","strokeWidth":1,"color":"#a070b0"},"encoding":{"detail":{"field":"g"}}},{"data":{"values":[{"g":"a","u":250,"v":300},{"g":"a","u":302,"v":1150},{"g":"b","u":302,"v":1150},{"g":"b","u":985,"v":1425},{"g":"c","u":985,"v":1425},{"g":"c","u":1325,"v":985}]},"mark":{"type":"line","strokeWidth":2.5,"color":"#000000"},"encoding":{"detail":{"field":"g"}}},{"data":{"values":[{"g":"a","u":238,"v":305},{"g":"a","u":250,"v":305},{"g":"b","u":245,"v":420},{"g":"b","u":257,"v":420},{"g":"c","u":252,"v":530},{"g":"c","u":263,"v":530},{"g":"d","u":258,"v":645},{"g":"d","u":270,"v":645},{"g":"e","u":265,"v":750},{"g":"e","u":277,"v":750},{"g":"f","u":272,"v":855},{"g":"f","u":284,"v":855},{"g":"h","u":280,"v":955},{"g":"h","u":292,"v":955},{"g":"i","u":287,"v":1055},{"g":"i","u":298,"v":1055},{"g":"j","u":385,"v":1187},{"g":"j","u":372,"v":1198},{"g":"k","u":470,"v":1220},{"g":"k","u":457,"v":1231},{"g":"l","u":560,"v":1255},{"g":"l","u":547,"v":1266},{"g":"m","u":650,"v":1292},{"g":"m","u":637,"v":1303},{"g":"n","u":740,"v":1330},{"g":"n","u":727,"v":1341},{"g":"o","u":835,"v":1368},{"g":"o","u":822,"v":1379},{"g":"p","u":935,"v":1405},{"g":"p","u":922,"v":1416},{"g":"q","u":1325,"v":985},{"g":"q","u":1340,"v":990},{"g":"r","u":1265,"v":1065},{"g":"r","u":1280,"v":1070},{"g":"s","u":1205,"v":1145},{"g":"s","u":1220,"v":1150},{"g":"t","u":1140,"v":1230},{"g":"t","u":1155,"v":1235},{"g":"w","u":1070,"v":1322},{"g":"w","u":1085,"v":1327},{"g":"x","u":985,"v":1425},{"g":"x","u":1003,"v":1431}]},"mark":{"type":"line","strokeWidth":2,"color":"#000000"},"encoding":{"detail":{"field":"g"}}},{"data":{"values":[{"u":258,"v":1187,"t":"200"},{"u":345,"v":1225,"t":"240"},{"u":430,"v":1257,"t":"280"},{"u":520,"v":1295,"t":"320"},{"u":610,"v":1330,"t":"360"},{"u":705,"v":1370,"t":"400"},{"u":803,"v":1410,"t":"440"},{"u":900,"v":1450,"t":"480"}]},"mark":{"type":"text","angle":-38,"fontWeight":"bold","fontSize":21,"align":"center","baseline":"middle"},"encoding":{"text":{"field":"t"}}},{"data":{"values":[{"u":1385,"v":1008,"t":"700"},{"u":1328,"v":1085,"t":"680"},{"u":1268,"v":1165,"t":"660"},{"u":1203,"v":1255,"t":"640"},{"u":1130,"v":1350,"t":"620"},{"u":1058,"v":1450,"t":"600"}]},"mark":{"type":"text","angle":20,"fontWeight":"bold","fontSize":21,"align":"center","baseline":"middle"},"encoding":{"text":{"field":"t"}}},{"data":{"values":[{"u":512,"v":1395,"t":"λex  (nm)"}]},"mark":{"type":"text","angle":20,"fontWeight":"bold","fontSize":27,"align":"center","baseline":"middle"},"encoding":{"text":{"field":"t"}}},{"data":{"values":[{"u":1345,"v":1255,"t":"λem  (nm)"}]},"mark":{"type":"text","angle":-45,"fontWeight":"bold","fontSize":25,"align":"center","baseline":"middle"},"encoding":{"text":{"field":"t"}}},{"data":{"values":[{"u":218,"v":775,"t":"Intensity (a.u.)"}]},"mark":{"type":"text","angle":83,"fontWeight":"bold","fontSize":33,"align":"center","baseline":"middle"},"encoding":{"text":{"field":"t"}}},{"data":{"values":[{"u":5,"v":118,"t":"(f)"}]},"mark":{"type":"text","fontWeight":"bold","fontSize":42,"align":"left","baseline":"alphabetic"},"encoding":{"text":{"field":"t"}}},{"data":{"values":[{"u":1440,"v":212,"u2":1510,"v2":1050}]},"mark":{"type":"rect","color":{"gradient":"linear","x1":0,"y1":0,"x2":0,"y2":1,"stops":[{"offset":0,"color":"#4a0010"},{"offset":0.07,"color":"#900000"},{"offset":0.16,"color":"#e00000"},{"offset":0.28,"color":"#ff0000"},{"offset":0.34,"color":"#ff2000"},{"offset":0.415,"color":"#ffa000"},{"offset":0.51,"color":"#ffff00"},{"offset":0.58,"color":"#80ff00"},{"offset":0.645,"color":"#00ff00"},{"offset":0.72,"color":"#00ffff"},{"offset":0.77,"color":"#0090ff"},{"offset":0.845,"color":"#0000ff"},{"offset":0.89,"color":"#7000e0"},{"offset":0.93,"color":"#700080"},{"offset":0.985,"color":"#6a0070"},{"offset":0.99,"color":"#000000"},{"offset":1,"color":"#000000"}]}},"encoding":{"x2":{"field":"u2"},"y2":{"field":"v2"}}}]}]}
